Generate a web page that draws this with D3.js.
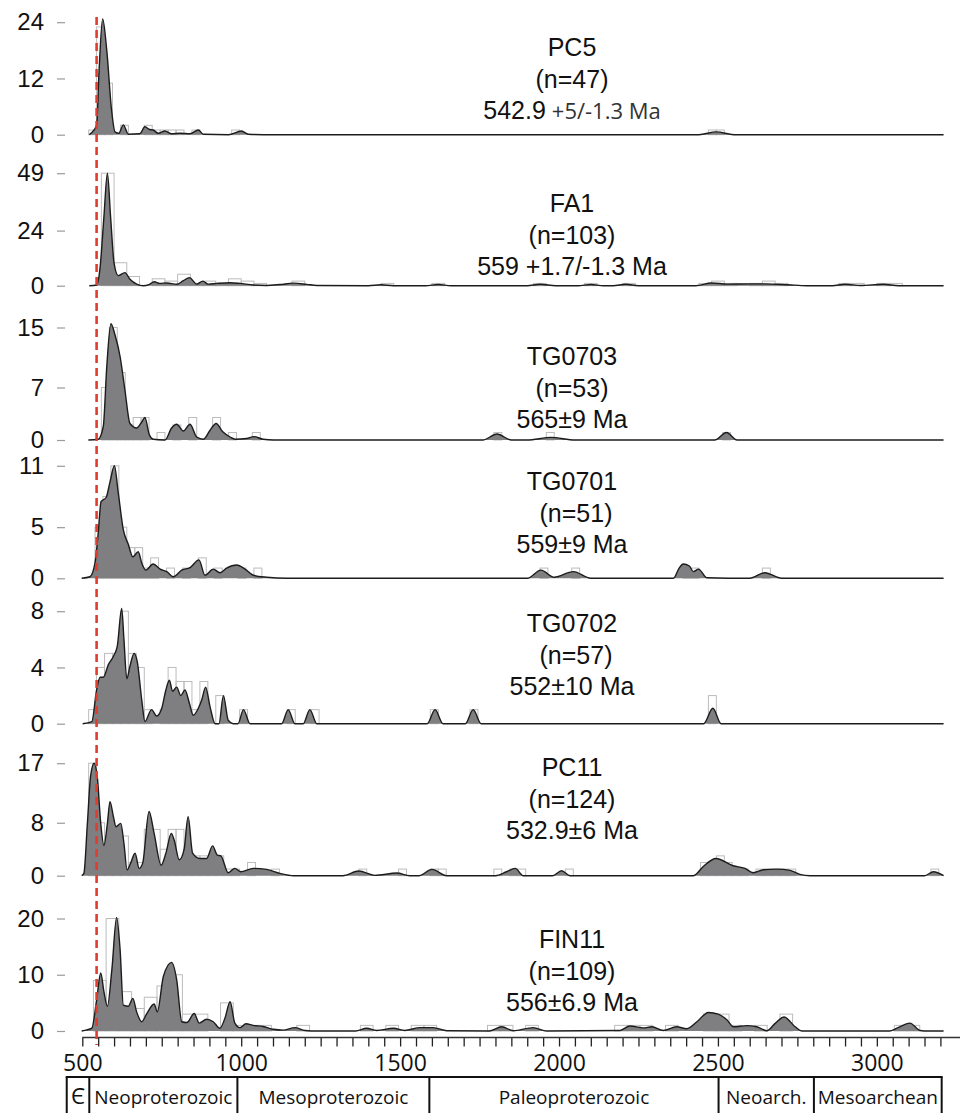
<!DOCTYPE html>
<html>
<head>
<meta charset="utf-8">
<script src="https://cdn.jsdelivr.net/npm/d3@7"></script>
<style>
  body { margin: 0; background: #fff; }
  svg { display: block; }
</style>
</head>
<body>
<svg id="chart" width="973" height="1113"></svg>
<script>
var w = 973;
var h = 1113;

// sample labels
var sampleNames = ["PC5", "FA1", "TG0703", "TG0701", "TG0702", "PC11", "FIN11"];
var sampleCounts = ["(n=47)", "(n=103)", "(n=53)", "(n=51)", "(n=57)", "(n=124)", "(n=109)"];
var sampleAges = ["542.9", "559 +1.7/-1.3 Ma", "565±9 Ma", "559±9 Ma", "552±10 Ma", "532.9±6 Ma", "556±6.9 Ma"];
var sampleAgeTail = ["+5/-1.3 Ma", "", "", "", "", "", ""];

// y tick values of every panel (last one is the panel top)
var yTicks = [[0, 12, 24], [0, 24, 49], [0, 7, 15], [0, 5, 11], [0, 4, 8], [0, 8, 17], [0, 10, 20]];

// histogram bin width (Ma) of every panel
var binWidths = [25, 40, 25, 25, 25, 25, 40];

// histograms: [bin start (Ma), count]
var histPC5 = [[520, 1], [545, 23], [570, 11], [620, 2], [695, 2], [720, 1], [745, 1], [770, 1], [795, 1], [845, 1], [970, 1], [2470, 1], [2495, 1]];
var histFA1 = [[560, 49], [600, 10], [640, 4], [720, 3], [760, 2], [800, 5], [840, 1], [880, 2], [920, 1], [960, 3], [1000, 2], [1040, 1], [1160, 2], [1440, 1], [1600, 1], [1920, 1], [2080, 1], [2200, 1], [2440, 1], [2480, 2], [2520, 1], [2600, 1], [2640, 2], [2680, 1], [2880, 1], [2920, 1], [3000, 1], [3040, 1]];
var histTG0703 = [[560, 7], [585, 15], [610, 9], [635, 2], [660, 3], [685, 3], [735, 1], [785, 2], [835, 3], [910, 3], [960, 1], [1035, 1], [1795, 1], [1960, 1], [2515, 1]];
var histTG0701 = [[540, 5], [565, 8], [590, 11], [615, 5], [640, 3], [665, 3], [690, 1], [715, 2], [765, 1], [815, 1], [865, 2], [915, 1], [990, 1], [1040, 1], [1940, 1], [2040, 1], [2390, 1], [2415, 1], [2640, 1]];
var histTG0702 = [[520, 1], [545, 4], [570, 5], [595, 5], [620, 8], [645, 5], [670, 4], [695, 1], [745, 1], [770, 4], [795, 3], [820, 3], [845, 1], [870, 3], [920, 2], [995, 1], [1145, 1], [1220, 1], [1595, 1], [1720, 1], [2470, 2]];
var histPC11 = [[520, 17], [545, 8], [570, 6], [595, 6], [620, 6], [645, 2], [670, 2], [695, 7], [720, 7], [745, 4], [770, 7], [795, 7], [820, 4], [845, 3], [870, 3], [895, 3], [920, 3], [945, 1], [970, 1], [1020, 2], [1095, 1], [1370, 1], [1495, 1], [1595, 1], [1620, 1], [1795, 1], [1845, 1], [1870, 1], [2020, 1], [2445, 2], [2470, 2], [2495, 3], [2520, 2], [2545, 1], [2570, 1], [2620, 1], [2645, 1], [2670, 1], [2695, 1], [2720, 1], [3170, 1]];
var histFIN11 = [[535, 9], [575, 20], [615, 7], [655, 4], [695, 6], [735, 8], [775, 10], [815, 3], [855, 3], [935, 5], [975, 1], [1015, 1], [1055, 1], [1175, 1], [1375, 1], [1455, 1], [1535, 1], [1575, 1], [1775, 1], [1815, 1], [1895, 1], [2175, 1], [2215, 1], [2255, 1], [2335, 1], [2455, 3], [2495, 3], [2535, 1], [2615, 1], [2695, 3], [3055, 1], [3095, 1]];

// density curves: [age (Ma), height in panel units]
var kdePC5 = [[522, 0], [545, 2], [553, 14], [564, 24.7], [577, 18], [592, 5.3], [603, 0.6], [615, 0.3], [629, 2.1], [645, 0.1], [681, 0.2], [697, 1.7], [712, 1.1], [723, 1.0], [739, 0.3], [760, 0.8], [781, 0.2], [807, 0.3], [839, 0.2], [865, 1.0], [881, 0.1], [960, 0], [1001, 0.8], [1022, 0.1], [1100, 0], [2440, 0], [2495, 0.6], [2550, 0], [3210, 0]];
var kdeFA1 = [[522, 0], [545, 0.3], [556, 8], [568, 30], [579, 49], [589, 30], [600, 9.8], [613, 4.4], [634, 5.7], [650, 2.8], [671, 0.7], [692, 0], [710, 0.5], [726, 1.7], [744, 1], [766, 1.2], [797, 0.6], [818, 2.2], [837, 3.5], [860, 0.7], [879, 2.0], [896, 0.7], [923, 1], [965, 1.3], [996, 1], [1038, 0.3], [1080, 0.1], [1122, 0.5], [1164, 1.1], [1206, 0.6], [1238, 0.1], [1400, 0], [1440, 0.4], [1480, 0], [1580, 0], [1620, 0.5], [1660, 0], [1900, 0], [1940, 0.6], [1990, 0], [2060, 0], [2100, 0.5], [2140, 0], [2170, 0], [2210, 0.6], [2250, 0], [2430, 0], [2480, 1.2], [2530, 0.7], [2600, 0.8], [2650, 0.8], [2720, 0.4], [2780, 0], [2860, 0], [2900, 0.6], [2950, 0.1], [3020, 0.6], [3070, 0], [3210, 0]];
var kdeTG0703 = [[519, 0], [550, 0.1], [566, 1.8], [577, 9.8], [590, 15.5], [603, 14], [619, 11.1], [634, 6.7], [650, 2.2], [671, 1.6], [687, 2.4], [697, 3.0], [711, 0.7], [723, 0.1], [760, 0], [781, 1.6], [797, 2.1], [818, 1.2], [839, 2.1], [860, 0.4], [881, 0.1], [902, 1.3], [921, 2.2], [942, 1.1], [965, 0.4], [981, 0.1], [1017, 0.2], [1040, 0.45], [1069, 0.1], [1101, 0], [1760, 0], [1805, 0.8], [1850, 0], [1900, 0], [1975, 0.35], [2050, 0], [2490, 0], [2527, 1.0], [2560, 0], [3210, 0]];
var kdeTG0701 = [[498, 0], [524, 0.15], [540, 1.5], [550, 4.4], [559, 7.5], [575, 7.9], [587, 9.4], [601, 11.0], [613, 8.4], [629, 4.75], [645, 3.3], [659, 2.1], [676, 2.6], [687, 1.5], [700, 0.8], [723, 1.4], [745, 0.9], [766, 0.65], [786, 0.15], [813, 0.8], [839, 1.05], [867, 1.8], [886, 0.3], [912, 0.9], [933, 0.55], [954, 1.0], [986, 1.3], [1012, 0.9], [1038, 0.3], [1080, 0.1], [1143, 0], [1900, 0], [1943, 0.8], [1985, 0.1], [2045, 0.65], [2100, 0], [2360, 0], [2378, 1.0], [2391, 1.4], [2410, 1.2], [2423, 0.65], [2439, 0.9], [2465, 0.05], [2600, 0], [2648, 0.55], [2700, 0], [3210, 0]];
var kdeTG0702 = [[501, 0], [530, 0.15], [545, 2.4], [556, 3.3], [566, 3.3], [582, 4.2], [598, 4.8], [610, 5.5], [624, 8.2], [631, 6.0], [640, 3.2], [650, 4.1], [663, 5.0], [673, 4.4], [687, 1.7], [697, 0.15], [718, 1.0], [734, 0.55], [750, 1.1], [763, 2.4], [774, 3.1], [784, 2.3], [797, 2.6], [810, 2.0], [823, 2.4], [837, 1.45], [849, 0.6], [865, 1.1], [876, 1.7], [888, 2.6], [902, 1.2], [918, 0], [930, 0], [944, 2.0], [959, 0.25], [975, 0], [990, 0], [1007, 1.0], [1028, 0], [1127, 0], [1148, 1.0], [1169, 0], [1195, 0], [1216, 1.0], [1238, 0], [1585, 0], [1610, 1.0], [1635, 0], [1705, 0], [1730, 1.0], [1755, 0], [2455, 0], [2484, 1.1], [2510, 0], [3210, 0]];
var kdePC11 = [[498, 0], [505, 0.35], [516, 7.9], [526, 15], [537, 17.0], [547, 15], [558, 7.9], [568, 4.6], [579, 7.9], [587, 11.2], [598, 8.9], [606, 7.4], [621, 7.9], [631, 4.9], [641, 0.86], [652, 1.9], [666, 3.4], [679, 1.1], [690, 1.9], [710, 9.7], [726, 6.4], [748, 1.6], [763, 3.4], [780, 6.4], [789, 5.4], [805, 2.4], [820, 3.9], [833, 8.9], [847, 3.4], [870, 2.6], [891, 2.6], [910, 4.5], [925, 3.1], [936, 3.0], [959, 0.45], [980, 1.1], [998, 0.6], [1038, 1.1], [1080, 0.95], [1122, 0.35], [1164, 0], [1320, 0], [1370, 0.7], [1420, 0.05], [1490, 0.4], [1530, 0], [1560, 0], [1600, 0.95], [1647, 0], [1800, 0], [1835, 0.6], [1862, 1.1], [1888, 0], [1980, 0], [2008, 0.75], [2035, 0], [2423, 0], [2454, 1.4], [2494, 2.6], [2548, 1.5], [2585, 1.1], [2611, 0.45], [2643, 0.9], [2685, 1.0], [2727, 0.8], [2758, 0.2], [2790, 0], [3150, 0], [3178, 0.6], [3210, 0]];
var kdeFIN11 = [[498, 0], [530, 0.5], [545, 5.5], [558, 10.3], [568, 7.0], [579, 4.4], [593, 10.9], [608, 20.2], [619, 14.4], [629, 4.6], [645, 4.4], [659, 5.8], [671, 3.4], [687, 1.65], [703, 3.1], [726, 4.8], [736, 3.4], [755, 9.7], [781, 12.2], [797, 9.1], [813, 1.65], [829, 1.5], [852, 3.1], [868, 1.4], [891, 2.1], [912, 1.65], [933, 0.5], [949, 2.3], [965, 5.2], [980, 1.4], [996, 0.6], [1015, 1.3], [1038, 1.0], [1069, 0.8], [1101, 0.3], [1132, 0.15], [1169, 0.6], [1201, 0.1], [1240, 0], [1360, 0], [1395, 0.5], [1426, 0.1], [1479, 0.5], [1515, 0.1], [1563, 0.6], [1604, 0.6], [1647, 0.05], [1780, 0], [1820, 0.75], [1856, 0.05], [1919, 0.6], [1961, 0], [2192, 0.1], [2223, 0.9], [2265, 0.55], [2292, 0.75], [2328, 0.1], [2370, 0.75], [2402, 0.4], [2433, 1.6], [2470, 3.3], [2501, 3.0], [2528, 2.0], [2549, 0.75], [2591, 0.95], [2622, 0.75], [2654, 0.05], [2680, 1.35], [2708, 2.5], [2743, 0.75], [2764, 0], [3040, 0], [3063, 0.5], [3104, 1.4], [3136, 0.1], [3160, 0], [3210, 0]];

var histograms = [histPC5, histFA1, histTG0703, histTG0701, histTG0702, histPC11, histFIN11];
var densities = [kdePC5, kdeFA1, kdeTG0703, kdeTG0701, kdeTG0702, kdePC11, kdeFIN11];

// x axis and time scale
var xMajorTicks = [500, 1000, 1500, 2000, 2500, 3000];
var periodNames = ["Є", "Neoproterozoic", "Mesoproterozoic", "Paleoproterozoic", "Neoarch.", "Mesoarchean"];
var periodBounds = [451, 522, 988, 1592, 2502, 2802, 3204];
var markerAge = 545;

// layout
var panelBase = [134.7, 285.7, 440, 578.3, 723.7, 875.7, 1031];
var panelHeight = 112.5;
var titleTop = [56, 212, 365, 490, 632, 776, 948];
var titleShift = [0, 0, 0, 4, 4, 0, 0];
var lineGap = 31.5;

var svg = d3.select("#chart");

var x = d3.scaleLinear().domain([500, 3200]).range([82.3, 940.4]);

/**
 * Draws one sample: histogram outlines, density curve, y ticks and title.
 * @param {number} i - Index of the sample.
 */
function drawPanel(i) {
  var base = panelBase[i];
  var ticks = yTicks[i];
  var y = d3
    .scaleLinear()
    .domain([0, ticks[ticks.length - 1]])
    .range([base, base - panelHeight]);
  var g = svg.append("g").attr("id", "panel" + i);
  var bw = binWidths[i];

  // histogram bars behind the curve
  g.selectAll("rect")
    .data(histograms[i])
    .enter()
    .append("rect")
    .attr("x", function (d) {
      return x(d[0]);
    })
    .attr("y", function (d) {
      return y(d[1]);
    })
    .attr("width", function (d) {
      return x(d[0] + bw) - x(d[0]);
    })
    .attr("height", function (d) {
      return base - y(d[1]);
    })
    .attr("fill", "none")
    .attr("stroke", "#bcbcbc")
    .attr("stroke-width", "1px");

  var area = d3
    .area()
    .x(function (d) {
      return x(d[0]);
    })
    .y0(base)
    .y1(function (d) {
      return y(d[1]);
    })
    .curve(d3.curveMonotoneX);

  var line = d3
    .line()
    .x(function (d) {
      return x(d[0]);
    })
    .y(function (d) {
      return y(d[1]);
    })
    .curve(d3.curveMonotoneX);

  g.append("path")
    .datum(densities[i])
    .attr("d", area)
    .attr("fill", "#7f7f81");

  g.append("path")
    .datum(densities[i])
    .attr("d", line)
    .attr("fill", "none")
    .attr("stroke", "#1c1c1c")
    .attr("stroke-width", "1.4px")
    .attr("stroke-linejoin", "round");

  // y axis: short grey ticks with labels
  var yAxis = g
    .append("g")
    .attr("transform", "translate(65,0)")
    .call(d3.axisLeft(y).tickValues(ticks).tickSize(8).tickPadding(13).tickFormat(d3.format("d")));
  yAxis.select(".domain").remove();
  yAxis.selectAll("line").attr("stroke", "#9a9a9a").attr("stroke-width", "1.2px");
  yAxis
    .selectAll("text")
    .attr("font-family", "'Liberation Sans', Arial, sans-serif")
    .attr("font-size", "24px")
    .attr("fill", "#111");

  // title block
  var tx = 572;
  g.append("text")
    .text(sampleNames[i])
    .attr("x", tx)
    .attr("y", titleTop[i])
    .attr("text-anchor", "middle")
    .attr("font-family", "'Liberation Sans', Arial, sans-serif")
    .attr("font-size", "25px")
    .attr("fill", "#111");
  g.append("text")
    .text(sampleCounts[i])
    .attr("x", tx + titleShift[i])
    .attr("y", titleTop[i] + lineGap)
    .attr("text-anchor", "middle")
    .attr("font-family", "'Liberation Sans', Arial, sans-serif")
    .attr("font-size", "25px")
    .attr("fill", "#111");
  var age = g
    .append("text")
    .attr("x", tx)
    .attr("y", titleTop[i] + 2 * lineGap)
    .attr("text-anchor", "middle")
    .attr("font-family", "'Liberation Sans', Arial, sans-serif")
    .attr("font-size", "25px")
    .attr("fill", "#111");
  age.append("tspan").text(sampleAges[i]);
  if (sampleAgeTail[i]) {
    age
      .append("tspan")
      .text(sampleAgeTail[i])
      .attr("dx", 6)
      .attr("font-family", "'Open Sans', sans-serif")
      .attr("font-size", "22px")
      .attr("fill", "#333");
  }
}

/**
 * Draws the shared age axis and the geological time scale below it.
 */
function drawAxis() {
  var axisY = 1037.5;
  var xAxis = svg
    .append("g")
    .attr("transform", "translate(0," + axisY + ")")
    .call(
      d3
        .axisBottom(x)
        .tickValues(d3.range(500, 3201, 50))
        .tickSize(9)
        .tickPadding(8)
        .tickFormat(function (d) {
          return xMajorTicks.indexOf(d) >= 0 ? d : "";
        })
    );
  xAxis.select(".domain").remove();
  xAxis.selectAll("line").attr("stroke", "#222").attr("stroke-width", "1.3px");
  xAxis
    .selectAll("text")
    .attr("font-family", "'Open Sans', sans-serif")
    .attr("font-size", "23px")
    .attr("fill", "#111");
  svg
    .append("line")
    .attr("x1", x(500))
    .attr("x2", 960)
    .attr("y1", axisY)
    .attr("y2", axisY)
    .attr("stroke", "#333")
    .attr("stroke-width", "1.5px");

  // time scale boxes
  var top = 1077;
  svg
    .append("line")
    .attr("x1", x(periodBounds[0]) - 1)
    .attr("x2", x(periodBounds[periodBounds.length - 1]) + 1)
    .attr("y1", top)
    .attr("y2", top)
    .attr("stroke", "#111")
    .attr("stroke-width", "2px");
  svg
    .selectAll(".bound")
    .data(periodBounds)
    .enter()
    .append("line")
    .attr("class", "bound")
    .attr("x1", function (d) {
      return x(d);
    })
    .attr("x2", function (d) {
      return x(d);
    })
    .attr("y1", top)
    .attr("y2", h + 5)
    .attr("stroke", "#111")
    .attr("stroke-width", "2px");
  svg
    .selectAll(".period")
    .data(periodNames)
    .enter()
    .append("text")
    .attr("class", "period")
    .text(function (d) {
      return d;
    })
    .attr("x", function (d, i) {
      return (x(periodBounds[i]) + x(periodBounds[i + 1])) / 2;
    })
    .attr("y", 1104)
    .attr("text-anchor", "middle")
    .attr("font-family", "'Open Sans', sans-serif")
    .attr("font-size", function (d, i) {
      return i === 0 ? "22px" : "19px";
    })
    .attr("fill", "#111");
}

for (var i = 0; i < sampleNames.length; i++) {
  drawPanel(i);
}
drawAxis();

// dashed reference age line
svg
  .append("line")
  .attr("x1", x(markerAge))
  .attr("x2", x(markerAge))
  .attr("y1", 17)
  .attr("y2", 1045)
  .attr("stroke", "#e33b2c")
  .attr("stroke-width", "2.6px")
  .attr("stroke-dasharray", "8,5");
</script>
</body>
</html>
